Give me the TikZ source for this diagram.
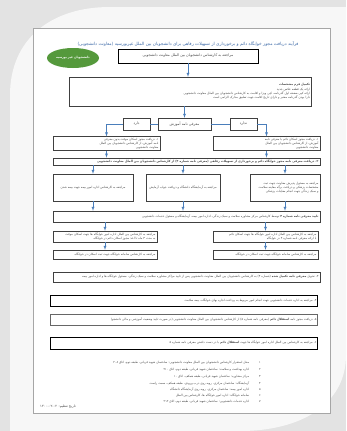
\documentclass[tikz,border=0pt]{standalone}
\usepackage{fontspec}
\usetikzlibrary{shapes.geometric}
\usepackage{xcolor}
\newfontfamily\farsifont[Script=Arabic]{DejaVu Sans}
\TeXXeTstate=1
\newcommand{\fa}[1]{{\farsifont\beginR #1\endR}}
\definecolor{flowblue}{HTML}{4A7EBB}
\definecolor{titleblue}{HTML}{3D6AA8}
\definecolor{ovalgreen}{HTML}{55993C}

\begin{document}
\begin{tikzpicture}[x=1pt,y=-1pt]
\tikzstyle{box} = [draw=black!75,line width=0.35pt,inner sep=1.2pt,text=black!72,font=\fontsize{3}{4.2}\selectfont]
\tikzstyle{darkbox} = [box,draw=black,line width=0.8pt]
\tikzstyle{edge} = [-latex,draw=flowblue,line width=0.4pt]
\tikzstyle{link} = [-,draw=flowblue,line width=0.4pt]
\tikzstyle{item} = [anchor=east,text=black!72,font=\fontsize{3}{4}\selectfont,inner sep=0pt]
\useasboundingbox (0,0) rectangle (346,431);
\fill[gray!22] (0,0) rectangle (346,431);
\fill[gray!6] (10,431) -- (10,95) .. controls (10,40) and (50,7) .. (110,7) -- (346,7) -- (346,355) .. controls (346,405) and (300,431) .. (240,431) -- cycle;
\fill[white] (33,28) rectangle (330,413);
\draw[gray!70,line width=0.5pt] (33,28) rectangle (330,413);
\node[text=titleblue,font=\fontsize{4.3}{5}\selectfont] (title) at (188,44) {\fa{فرآیند دریافت مجوز خوابگاه دائم و برخورداری از تسهیلات رفاهی برای دانشجویان بین الملل غیربورسیه (معاونت دانشجویی)}};
\node[ellipse,fill=ovalgreen,minimum width=52pt,minimum height=20pt,inner sep=0pt,text=white,font=\fontsize{3}{4}\selectfont\bfseries] (n0) at (73,58) {\fa{دانشجویان غیر بورسیه}};
\node[darkbox,minimum width=140pt,minimum height=14pt,font=\fontsize{3.6}{4.4}\selectfont] (n1) at (188,56) {\fa{مراجعه به کارشناس دانشجویان بین الملل معاونت دانشجویی}};
\node[box,minimum height=29pt,text width=240pt,align=right] (n2) at (190,91.5) {\fa{\bfseries تکمیل فرم مشخصات}\\\fa{ارائه یک قطعه عکس جدید}\\\fa{ارائه کپی صفحه اول گذرنامه، کپی ویزا و اقامت به کارشناس دانشجویان بین الملل معاونت دانشجویی}\\\fa{دارا بودن گذرنامه معتبر و دارای تاریخ اقامت جهت تطبیق مدارک الزامی است}};
\node[box,minimum width=53pt,minimum height=12pt,font=\fontsize{3.6}{4.4}\selectfont] (n3) at (184.5,124) {\fa{معرفی نامه آموزش}};
\node[box,minimum width=27pt,minimum height=12pt,font=\fontsize{3.6}{4.4}\selectfont] (n4) at (136.5,124) {\fa{دارد}};
\node[box,minimum width=27pt,minimum height=12pt,font=\fontsize{3.6}{4.4}\selectfont] (n5) at (243.5,124) {\fa{ندارد}};
\node[box,minimum height=11pt,text width=104pt,align=right] (n6) at (106.5,143.5) {\fa{۱- دریافت مجوز اسکان موقت بدون معرفی نامه آموزش، از کارشناس دانشجویان بین الملل}\\\fa{معاونت دانشجویی}};
\node[box,minimum height=11pt,text width=104pt,align=right] (n7) at (266.5,143.5) {\fa{۱- دریافت مجوز اسکان دائم با معرفی نامه آموزش، از کارشناس دانشجویان بین الملل}\\\fa{معاونت دانشجویی}};
\node[box,minimum height=7.5pt,text width=264pt,align=right] (n8) at (186.5,161.5) {\fa{\bfseries ۲- دریافت معرفی نامه مجوز خوابگاه دائم و برخورداری از تسهیلات رفاهی (معرفی نامه شماره ۴) از کارشناس دانشجویان بین الملل معاونت دانشجویی}};
\node[box,minimum width=80pt,minimum height=27pt] (n9) at (93,187.5) {\fa{مراجعه به کارشناس اداره امور بیمه جهت بیمه شدن}};
\node[box,minimum width=74pt,minimum height=27pt] (n10) at (183,187.5) {\fa{مراجعه به آزمایشگاه دانشگاه و دریافت جواب آزمایش}};
\node[box,minimum height=27pt,text width=67pt,align=right] (n11) at (285,187.5) {\fa{مراجعه به مسئول پذیرش معاونت جهت ثبت}\\\fa{مشخصات پزشکی و دریافت برگه معاینه سلامت}\\\fa{و سبک زندگی جهت انجام معاینات پزشکی}};
\node[box,minimum height=11pt,text width=264pt,align=right] (n12) at (186.5,216.5) {\fa{{\bfseries تایید معرفی نامه شماره ۴} توسط کارشناس مرکز مشاوره سلامت و سبک زندگی، اداره امور بیمه، آزمایشگاه و مسئول خدمات دانشجویی}};
\node[box,minimum height=11pt,text width=101pt,align=right] (n13) at (105,236.5) {\fa{مراجعه به کارشناس بین الملل اداره امور خوابگاه ها جهت اسکان موقت}\\\fa{به مدت ۳ ماه تا اخذ مجوز اسکان دائم در خوابگاه}};
\node[box,minimum height=11pt,text width=102pt,align=right] (n14) at (265.5,236.5) {\fa{مراجعه به کارشناس بین الملل اداره امور خوابگاه ها جهت اسکان دائم}\\\fa{با ارائه معرفی نامه شماره ۴ در خوابگاه}};
\node[box,minimum height=9pt,text width=101pt,align=right] (n15) at (105,254.5) {\fa{مراجعه به کارشناس سامانه خوابگاه جهت ثبت اسکان در خوابگاه}};
\node[box,minimum height=9pt,text width=102pt,align=right] (n16) at (265.5,254.5) {\fa{مراجعه به کارشناس سامانه خوابگاه جهت ثبت اسکان در خوابگاه}};
\node[box,minimum height=10pt,text width=264pt,align=right] (n17) at (186.5,277) {\fa{۳- تحویل {\bfseries معرفی نامه تکمیل شده} (شماره ۴) به کارشناس دانشجویان بین الملل معاونت دانشجویی پس از تایید مراکز مشاوره سلامت و سبک زندگی، مسئول خوابگاه ها و اداره امور بیمه}};
\node[darkbox,minimum height=11pt,text width=265pt,align=right] (n18) at (184,300.5) {\fa{۴- مراجعه به اداره خدمات دانشجویی جهت انجام امور مربوط به پرداخت اجاره بهای خوابگاه، بیمه سلامت}};
\node[box,draw=black!60,line width=0.8pt,minimum height=11pt,text width=265pt,align=right] (n19) at (184,319.5) {\fa{۵- دریافت مجوز نامه {\bfseries استقلال دائم} (معرفی نامه شماره ۵) از کارشناس دانشجویان بین الملل معاونت دانشجویی (در صورت تایید وضعیت آموزشی و مالی دانشجو)}};
\node[darkbox,minimum height=12pt,text width=265pt,align=right] (n20) at (184,343) {\fa{۶- مراجعه به کارشناس بین الملل اداره امور خوابگاه ها جهت {\bfseries استقلال دائم} با در دست داشتن معرفی نامه شماره ۵}};
\node[item] (i1) at (261,363) {\fa{۱\hspace{10pt}محل استقرار کارشناس دانشجویان بین الملل معاونت دانشجویی: ساختمان شهید قربانی، طبقه دوم، اتاق ۲۰۸}};
\node[item] (i2) at (261,370) {\fa{۲\hspace{10pt}اداره بهداشت و سلامت: ساختمان شهید قربانی، طبقه دوم، اتاق ۲۱۰}};
\node[item] (i3) at (261,377) {\fa{۳\hspace{10pt}مرکز مشاوره: ساختمان شهید قربانی، طبقه همکف، اتاق ۱۰}};
\node[item] (i4) at (261,383) {\fa{۴\hspace{10pt}آزمایشگاه: ساختمان مرکزی، روبه روی درب ورودی، طبقه همکف، سمت راست}};
\node[item] (i5) at (261,389) {\fa{۵\hspace{10pt}اداره امور بیمه: ساختمان مرکزی، روبه روی آزمایشگاه دانشگاه}};
\node[item] (i6) at (261,396) {\fa{۶\hspace{10pt}سامانه خوابگاه: اداره امور خوابگاه ها، کارشناس بین الملل}};
\node[item] (i7) at (261,402) {\fa{۷\hspace{10pt}اداره خدمات دانشجویی: ساختمان شهید قربانی، طبقه دوم، اتاق ۲۱۲}};
\node[item,anchor=west,font=\fontsize{3.4}{4}\selectfont] (date) at (40,407) {\fa{تاریخ تنظیم: \beginL ۱۴۰۰-۰۲-۰۲\endL}};
\draw[edge] (n1) -- (n1 |- n2.north);
\draw[edge] (n3 |- n2.south) -- (n3);
\draw[link] (n3) -- (n4);
\draw[link] (n3) -- (n5);
\draw[edge] (n4) -| (n6);
\draw[edge] (n5) -| (n7);
\draw[edge] (n6) -- (n6 |- n8.north);
\draw[edge] (n7) -- (n7 |- n8.north);
\draw[edge] (n8.south -| n9) -- (n9);
\draw[edge] (n8.south -| n10) -- (n10);
\draw[edge] (n8.south -| n11) -- (n11);
\draw[edge] (n9) -- (n9 |- n12.north);
\draw[edge] (n10) -- (n10 |- n12.north);
\draw[edge] (n11) -- (n11 |- n12.north);
\draw[edge] (n12.south -| n13) -- (n13);
\draw[edge] (n12.south -| n14) -- (n14);
\draw[edge] (n13) -- (n15);
\draw[edge] (n14) -- (n16);
\end{tikzpicture}
\end{document}
